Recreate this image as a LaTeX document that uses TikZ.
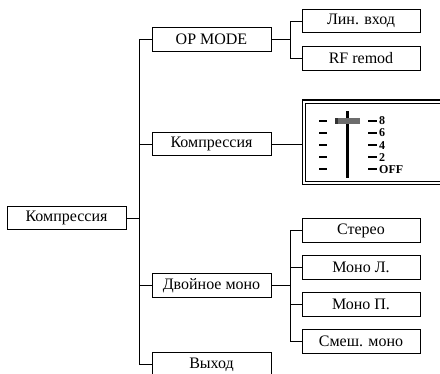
\documentclass[tikz,border=0pt]{standalone}
\usepackage{fontspec}
\setmainfont{Liberation Serif}
\begin{document}
\begin{tikzpicture}[x=1pt,y=-1pt,
  box/.style={draw, line width=1pt, minimum height=23.5pt, inner sep=0pt, font=\fontsize{16}{18}\selectfont},
  lone/.style={box, minimum width=119pt},
  ltwo/.style={box, minimum width=118pt},
  conn/.style={line width=0.9pt},
  tick/.style={line width=2pt},
  lev/.style={font=\fontsize{12}{13}\selectfont\bfseries, anchor=west, inner sep=0pt}]
\useasboundingbox (0,0) rectangle (440,374);
\clip (0,0) rectangle (440,374);
% nodes
\node[box, minimum width=119pt] (root) at (66.5,218) {Компрессия};
\node[lone] (op)   at (211.5,39.5)  {OP MODE};
\node[lone] (comp) at (211.5,144)   {Компрессия};
\node[lone] (dual) at (211.5,285.5) {Двойное моно};
\node[lone] (out)  at (211.5,364.5) {Выход};
\node[ltwo] (lin)  at (361,21)    {Лин. вход};
\node[ltwo] (rf)   at (361,58.5)  {RF remod};
\node[ltwo] (st)   at (361,230.5) {Стерео};
\node[ltwo] (ml)   at (361,267.5) {Моно Л.};
\node[ltwo] (mp)   at (361,304.5) {Моно П.};
\node[ltwo] (mix)  at (361,341.5) {Смеш. моно};
% slider panel
\node[draw, line width=1.3pt, minimum width=146pt, minimum height=84.5pt, anchor=west, inner sep=0pt] (panel) at (301.5,142.25) {};
\draw[line width=0.8pt] ([shift={(4,3.8)}]panel.north west) rectangle ([shift={(-4,-3.3)}]panel.south east);
% trunk
\coordinate (t1) at (139,39.5);
\coordinate (t2) at (139,364.5);
\draw[conn] (op.west) -- (t1) -- (t2) -- (out.west);
\draw[conn] (root.east) -- (root.east -| t1);
\draw[conn] (comp.west) -- (comp.west -| t1);
\draw[conn] (dual.west) -- (dual.west -| t1);
% OP MODE branch
\coordinate (s1) at (290,21);
\coordinate (s2) at (290,58.5);
\draw[conn] (lin.west) -- (s1) -- (s2) -- (rf.west);
\draw[conn] (op.east) -- (op.east -| s1);
% dual mono branch
\coordinate (s3) at (290,230.5);
\coordinate (s4) at (290,341.5);
\draw[conn] (st.west) -- (s3) -- (s4) -- (mix.west);
\draw[conn] (ml.west) -- (ml.west -| s3);
\draw[conn] (mp.west) -- (mp.west -| s3);
\draw[conn] (dual.east) -- (dual.east -| s3);
% compression to panel
\draw[conn] (comp.east) -- (comp.east -| panel.west);
% slider
\draw[line width=3pt] (347.3,111) -- (347.3,178);
\fill[gray!85!black] (335,118) rectangle (360,124);
\fill[black!80] (335,118) rectangle (337.5,124);
\foreach \yy/\lab in {121/8, 133/6, 145.3/4, 157.5/2, 169.5/OFF}{
  \draw[tick] (319,\yy) -- (326.5,\yy);
  \draw[tick] (368,\yy) -- (376.5,\yy);
  \node[lev] at (379,\yy) {\lab};
}
\end{tikzpicture}
\end{document}
